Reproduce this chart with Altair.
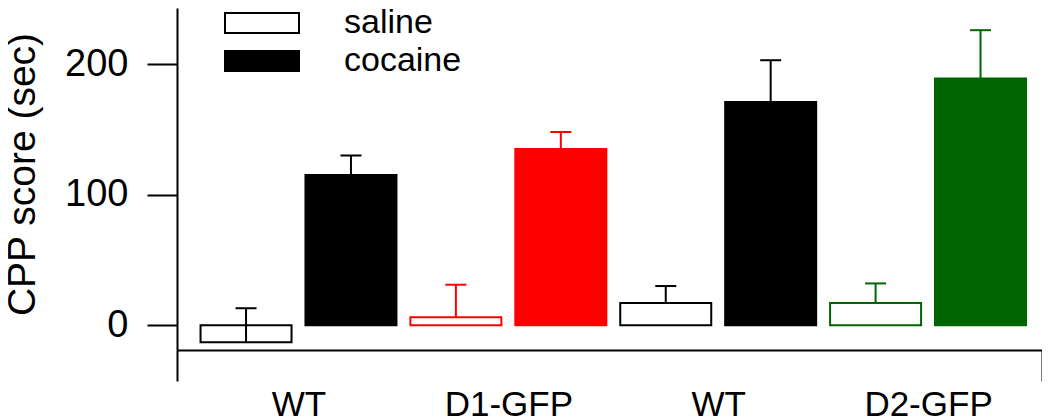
import altair as alt
import pandas as pd

# ---- data ----
positions = [1, 2, 3, 4, 5, 6, 7, 8]
keys = ["saline", "cocaine", "D1 saline", "D1 cocaine",
        "saline", "cocaine", "D2 saline", "D2 cocaine"]
means = [-13, 115, 6, 135, 17, 171, 17, 189]
sems = [26, 15, 25, 13, 13, 32, 15, 37]

group_labels = ["WT", "D1-GFP", "WT", "D2-GFP"]
group_centers = [1.5, 3.5, 5.5, 7.5]
x_ends = [0.342, 8.586]
y_ticks = [0, 100, 200]
legend_values = ["saline", "cocaine"]

key_domain = ["saline", "cocaine", "D1 saline", "D1 cocaine", "D2 saline", "D2 cocaine"]
fill_range = ["white", "black", "white", "#ff0000", "white", "#006400"]
stroke_range = ["black", "black", "#ff0000", "#ff0000", "#006400", "#006400"]

FONT = "Liberation Sans"

df = pd.DataFrame({"pos": positions, "key": keys, "mean": means, "sem": sems})
df["top"] = df["mean"] + df["sem"]

label_expr = " : ".join(
    f"datum.value == {c} ? '{l}'" for c, l in zip(group_centers, group_labels)
) + " : ''"

x_scale = alt.Scale(domain=x_ends, nice=False, zero=False, padding=0)
y_scale = alt.Scale(domain=[-19, 243], nice=False, zero=False, padding=0)
fill_scale = alt.Scale(domain=key_domain, range=fill_range)
stroke_scale = alt.Scale(domain=key_domain, range=stroke_range)

x_axis = alt.Axis(
    values=[x_ends[0]] + group_centers + [x_ends[1]],
    labelExpr=label_expr,
    title=None,
    grid=False,
    domainColor="black", domainWidth=2,
    tickColor="black", tickWidth=2, tickSize=31,
    tickOpacity={"condition": {"test": "datum.value < 1 || datum.value > 8", "value": 1}, "value": 0},
    labelFont=FONT, labelFontSize=35, labelColor="black", labelPadding=6,
    labelFlush=False, labelOverlap=False,
)

y_axis = alt.Axis(
    values=y_ticks, title="CPP score (sec)", grid=False,
    domainColor="black", domainWidth=2,
    tickColor="black", tickWidth=2, tickSize=30,
    labelFont=FONT, labelFontSize=38, labelColor="black", labelPadding=19,
    titleFont=FONT, titleFontSize=39, titleFontWeight="normal", titleColor="black",
    titleAngle=270, titleBaseline="bottom", titleAlign="center",
    titleX=-135, titleY=166,
)

legend = alt.Legend(
    values=legend_values, title=None, orient="none", legendX=68, legendY=-2,
    symbolType="M-3.7,-1H3.7V1H-3.7Z", symbolSize=400,
    symbolStrokeColor="black", symbolStrokeWidth=2,
    labelFont=FONT, labelFontSize=34, labelColor="black", labelOffset=65,
    rowPadding=4, padding=0,
)

base = alt.Chart(df)

bars = base.mark_bar(size=91, strokeWidth=2).encode(
    x=alt.X("pos:Q", scale=x_scale, axis=x_axis),
    y=alt.Y("mean:Q", scale=y_scale, axis=y_axis),
    y2=alt.datum(0),
    fill=alt.Fill("key:N", scale=fill_scale, legend=legend),
    stroke=alt.Stroke("key:N", scale=stroke_scale, legend=None),
)

err = base.mark_rule(strokeWidth=2).encode(
    x="pos:Q",
    y="mean:Q",
    y2="top:Q",
    stroke=alt.Stroke("key:N", scale=stroke_scale, legend=None),
)

caps = base.transform_calculate(
    xl="datum.pos - 0.1", xr="datum.pos + 0.1"
).mark_rule(strokeWidth=2).encode(
    x="xl:Q",
    x2="xr:Q",
    y="top:Q",
    stroke=alt.Stroke("key:N", scale=stroke_scale, legend=None),
)

chart = (
    alt.layer(bars, err, caps)
    .properties(
        width=865, height=342,
        autosize=alt.AutoSizeParams(type="none"),
        padding={"left": 169, "top": 0, "right": 0, "bottom": 67},
        background="white",
    )
    .configure_view(stroke=None)
)

chart.save("out.html", embed_options={"renderer": "svg", "actions": False})
